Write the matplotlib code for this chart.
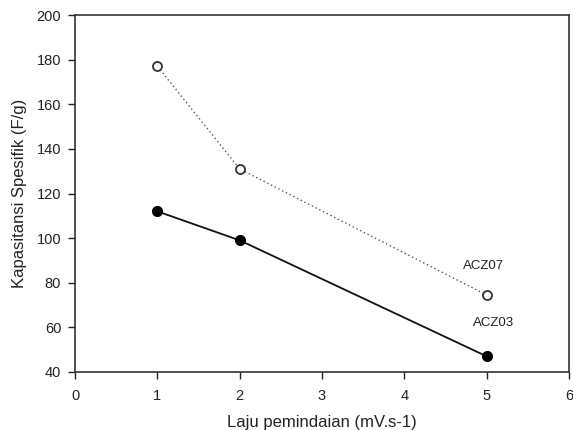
import matplotlib
matplotlib.use("Agg")
import matplotlib.pyplot as plt

plt.rcParams['font.family'] = ['Liberation Sans', 'DejaVu Sans']

x = [1, 2, 5]
acz07 = [177, 131, 74.5]
acz03 = [112, 99, 47]
xticks = [0, 1, 2, 3, 4, 5, 6]
yticks = [40, 60, 80, 100, 120, 140, 160, 180, 200]

fig = plt.figure(figsize=(5.73, 4.30), dpi=100)
ax = fig.add_axes([0.131, 0.135, 0.862, 0.830])

ax.plot(x, acz07, linestyle=(0, (1, 2)), color='#555555', linewidth=1,
        marker='o', markersize=6.5, markerfacecolor='white', markeredgecolor='#333333', markeredgewidth=1.3)
ax.plot(x, acz03, linestyle='-', color='#111111', linewidth=1.3,
        marker='o', markersize=7, markerfacecolor='black', markeredgecolor='black')

ax.text(4.96, 87.5, 'ACZ07', fontsize=9.5, ha='center', va='center', color='#222222')
ax.text(5.08, 62, 'ACZ03', fontsize=9.5, ha='center', va='center', color='#222222')

ax.set_xlim(0, 6)
ax.set_ylim(40, 200)
ax.set_xticks(xticks)
ax.set_yticks(yticks)
ax.tick_params(direction='out', length=5, width=1, labelsize=10.5, colors='#222222')
ax.tick_params(axis='x', pad=7)
ax.tick_params(axis='y', pad=5)
for s in ax.spines.values():
    s.set_linewidth(1.2)
    s.set_color('#333333')

ax.set_xlabel('Laju pemindaian (mV.s-1)', fontsize=12, labelpad=9, color='#222222')
ax.set_ylabel('Kapasitansi Spesifik (F/g)', fontsize=12, labelpad=7, color='#222222')

fig.savefig('out.png', dpi=100)
